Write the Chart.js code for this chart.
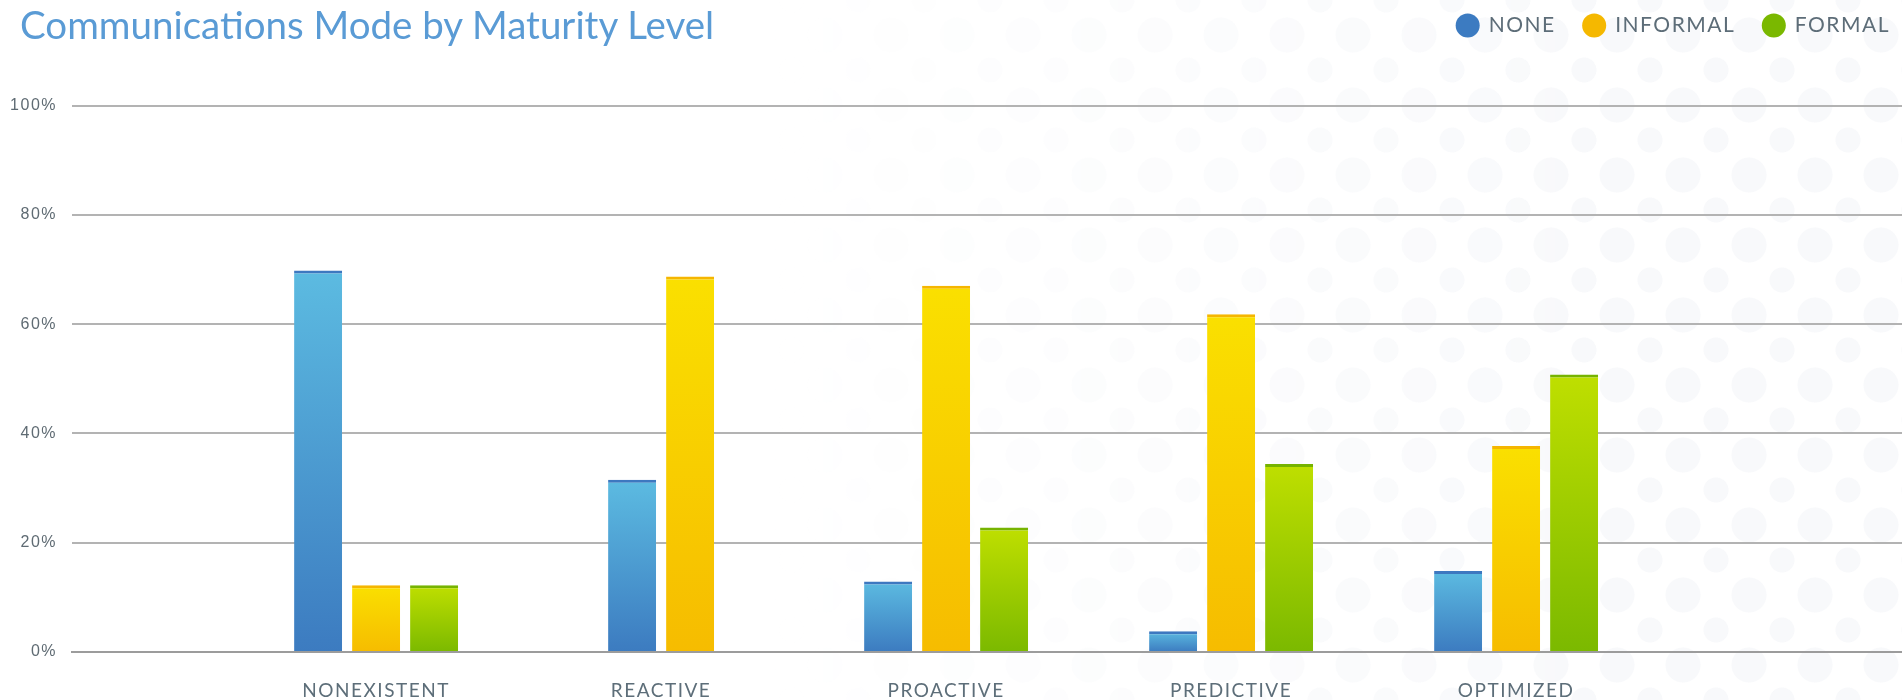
<!DOCTYPE html>
<html>
<head>
<meta charset="utf-8">
<title>Communications Mode by Maturity Level</title>
<script src="https://cdn.jsdelivr.net/npm/chart.js@4.4.1/dist/chart.umd.min.js"></script>
<style>
    html, body {
        margin: 0;
        padding: 0;
        background: #ffffff;
    }

    #wrap {
        position: relative;
        width: 1902px;
        height: 700px;
        overflow: hidden;
    }

    #dots {
        position: absolute;
        left: 0;
        top: 0;
        width: 1902px;
        height: 700px;
        background-image: radial-gradient(circle, #f8f9fb 0 17px, rgba(255, 255, 255, 0) 18px),
                          radial-gradient(circle, #f8f9fb 0 12px, rgba(255, 255, 255, 0) 13px);
        background-size: 66px 70px, 66px 70px;
        background-position: 0 0, 33px 35px;
        -webkit-mask-image: linear-gradient(to right, rgba(0, 0, 0, 0) 40%, #000 85%);
        mask-image: linear-gradient(to right, rgba(0, 0, 0, 0) 40%, #000 85%);
    }

    #chart-title {
        position: absolute;
        left: 20px;
        top: 5px;
        font-family: Lato, "Open Sans", sans-serif;
        font-size: 38.5px;
        line-height: 1;
        color: #5a9bd5;
        z-index: 2;
    }

    #holder {
        position: absolute;
        left: 0;
        top: 0;
        width: 1902px;
        height: 700px;
    }
</style>
</head>
<body>
<div id="wrap">
    <div id="dots"></div>
    <div id="chart-title">Communications Mode by Maturity Level</div>
    <div id="holder"><canvas id="maturity"></canvas></div>
</div>

<script>
// values, in percent
var categories = ["NONEXISTENT", "REACTIVE", "PROACTIVE", "PREDICTIVE", "OPTIMIZED"];
var seriesNames = ["NONE", "INFORMAL", "FORMAL"];
var noneValues = [69.8, 31.5, 12.9, 3.8, 14.8];
var informalValues = [12.2, 68.7, 67.0, 61.8, 37.7];
var formalValues = [12.2, null, 22.8, 34.4, 50.8];
var yTickValues = [0, 20, 40, 60, 80, 100];

var allValues = [noneValues, informalValues, formalValues];

// colours: legend dot, gradient top, gradient bottom, top edge
var legendColors = ["#3c7bc1", "#f5b800", "#7ab800"];
var topColors = ["#5cbbe1", "#fae000", "#bfdf00"];
var bottomColors = ["#3c7bc0", "#f6bc00", "#7bb900"];
var edgeColors = ["#3d78c0", "#f5b600", "#76b300"];

var BAR_STEP = 0.2035;   // distance between neighbour bars, in category units

// bars of one category sit side by side, a missing value leaves no hole
function build_points(k) {
    var pts = [];
    categories.forEach(function (cat, i) {
        var v = allValues[k][i];
        if (v === null) {
            return;
        }
        var present = [];
        allValues.forEach(function (arr, j) {
            if (arr[i] !== null) present.push(j);
        });
        var slot = present.indexOf(k);
        pts.push({x: i + (slot - (present.length - 1) / 2) * BAR_STEP, y: v});
    });
    return pts;
}

function bar_fill(k) {
    return function (c) {
        if (c.type !== "data" || !c.raw) {
            return bottomColors[k];
        }
        var yScale = c.chart.scales.y;
        var p0 = yScale.getPixelForValue(c.raw.y);
        var p1 = yScale.getPixelForValue(0);
        if (!isFinite(p0) || !isFinite(p1) || p0 === p1) {
            return bottomColors[k];
        }
        var g = c.chart.ctx.createLinearGradient(0, p0, 0, p1);
        g.addColorStop(0, topColors[k]);
        g.addColorStop(1, bottomColors[k]);
        return g;
    };
}

// letter spaced text like the original
var spacing = {
    id: "spacing",
    beforeLayout: function (chart) {
        chart.ctx.letterSpacing = "1.5px";
    },
    beforeDraw: function (chart) {
        chart.ctx.letterSpacing = "1.5px";
    }
};

// empty box between legend and plot, keeps the legend on the title line
var gap = {
    id: "gap",
    beforeInit: function (chart) {
        Chart.layouts.addBox(chart, {
            position: "top",
            weight: 0,
            fullSize: true,
            options: {},
            isHorizontal: function () {
                return true;
            },
            update: function (w, h) {
                this.width = w;
                this.height = 59.5;
            },
            draw: function () {
            }
        });
    }
};

function build_graph_maturity() {

    var ctx = document.getElementById("maturity");

    var datasets = seriesNames.map(function (name, k) {
        return {
            label: name,
            data: build_points(k),
            backgroundColor: bar_fill(k),
            borderColor: edgeColors[k],
            borderWidth: {top: 3, left: 0, right: 0, bottom: 0},
            borderSkipped: false,
            categoryPercentage: 1,
            barPercentage: 0.828
        };
    });

    var option = {
        responsive: true,
        maintainAspectRatio: false,
        animation: false,
        layout: {
            padding: {top: -13, left: 0, right: -16, bottom: 0}
        },
        plugins: {
            title: {display: false},
            tooltip: {enabled: false},
            legend: {
                position: "top",
                align: "end",
                labels: {
                    usePointStyle: true,
                    boxWidth: 25,
                    boxHeight: 17,
                    padding: 28,
                    color: "#5d6d78",
                    font: {family: "Lato", size: 21},
                    generateLabels: function (chart) {
                        return chart.data.datasets.map(function (ds, i) {
                            return {
                                text: ds.label,
                                fillStyle: legendColors[i],
                                strokeStyle: legendColors[i],
                                lineWidth: 0,
                                pointStyle: "circle",
                                hidden: false,
                                datasetIndex: i,
                                fontColor: "#5d6d78"
                            };
                        });
                    }
                }
            }
        },
        scales: {
            x: {
                type: "linear",
                stacked: true,
                offset: false,
                min: -1.067,
                max: 5.354,
                afterBuildTicks: function (axis) {
                    axis.ticks = categories.map(function (c, i) {
                        return {value: i};
                    });
                },
                afterFit: function (axis) {
                    axis.height = 48;
                },
                grid: {display: false, drawTicks: false, offset: false},
                border: {display: true, color: "#9c9c9c", width: 2},
                ticks: {
                    autoSkip: false,
                    maxRotation: 0,
                    minRotation: 0,
                    padding: 27,
                    color: "#5d6e79",
                    font: {family: "Lato", size: 19},
                    callback: function (value, index) {
                        return categories[index];
                    }
                }
            },
            y: {
                min: 0,
                max: 100,
                afterBuildTicks: function (axis) {
                    axis.ticks = yTickValues.map(function (v) {
                        return {value: v};
                    });
                },
                afterFit: function (axis) {
                    axis.width = 72;
                },
                grid: {
                    color: "#b3b3b3",
                    lineWidth: 2,
                    drawTicks: false
                },
                border: {display: false},
                ticks: {
                    padding: 15,
                    color: "#5f6b73",
                    font: {family: "Liberation Sans", size: 16},
                    callback: function (value) {
                        return value + "%";
                    }
                }
            }
        }
    };

    var barChart = new Chart(ctx, {
        type: "bar",
        data: {datasets: datasets},
        options: option,
        plugins: [spacing, gap]
    });

}

build_graph_maturity();
</script>
</body>
</html>
